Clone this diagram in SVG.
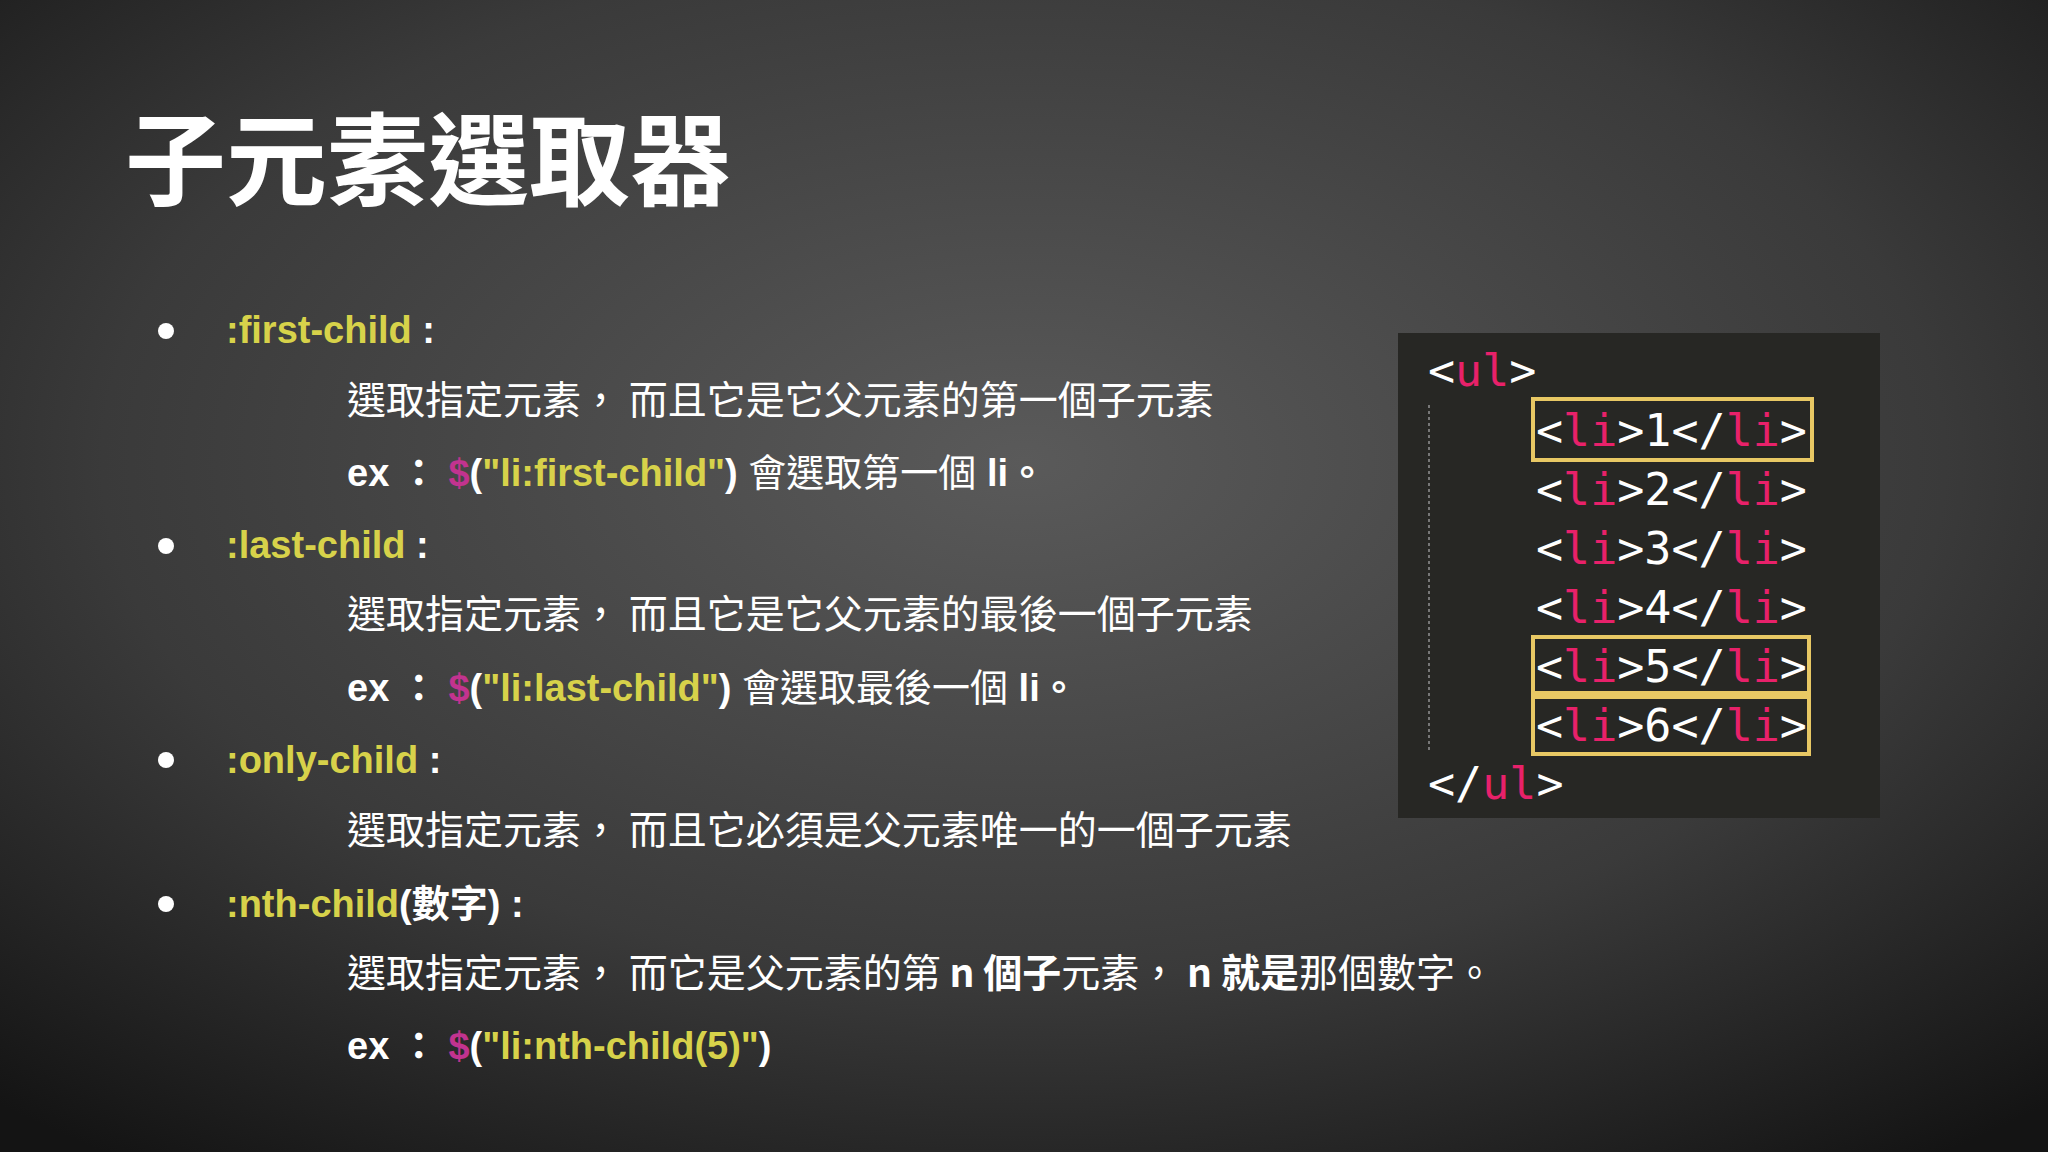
<svg xmlns="http://www.w3.org/2000/svg" width="2048" height="1152" viewBox="0 0 2048 1152">
<defs>
<radialGradient id="bg" cx="0.5" cy="0.4" r="0.75">
<stop offset="0" stop-color="#5a5a5a"/><stop offset="0.6" stop-color="#3a3a3a"/><stop offset="1" stop-color="#141414"/>
</radialGradient>
<style>
.t{font-family:"Liberation Sans","Noto Sans CJK TC",sans-serif;fill:#fff}
.z{font-family:"Noto Sans CJK TC",sans-serif;fill:#fff;font-size:39px}
.y{fill:#d7d24a}
.m{fill:#c2338f}
.b{font-weight:bold}
.code{font-family:"DejaVu Sans Mono",monospace;font-size:45px;fill:#fff}
.r{fill:#e8216a}
.hl{fill:none;stroke:#e8c864;stroke-width:4}
</style>
</defs>
<rect width="2048" height="1152" fill="url(#bg)"/>
<text x="125" y="198" font-family="Noto Sans CJK TC,sans-serif" font-weight="bold" font-size="101" fill="#fff">子元素選取器</text>
<g id="content">
<g class="t b" font-size="38">
<circle cx="166" cy="331" r="8" fill="#fff"/>
<circle cx="166" cy="546" r="8" fill="#fff"/>
<circle cx="166" cy="760" r="8" fill="#fff"/>
<circle cx="166" cy="904" r="8" fill="#fff"/>
<text x="226" y="343"><tspan class="y">:first-child</tspan> :</text>
<text x="226" y="558"><tspan class="y">:last-child</tspan> :</text>
<text x="226" y="773"><tspan class="y">:only-child</tspan> :</text>
<text x="226" y="917"><tspan class="y">:nth-child</tspan>(數字) :</text>
</g>
<text class="z" x="347" y="414">選取指定元素，  而且它是它父元素的第一個子元素</text>
<text class="z" x="347" y="628">選取指定元素，  而且它是它父元素的最後一個子元素</text>
<text class="z" x="347" y="844">選取指定元素，  而且它必須是父元素唯一的一個子元素</text>
<text class="z" x="347" y="987">選取指定元素，  而它是父元素的第 <tspan font-weight="bold">n 個子</tspan>元素，  <tspan font-weight="bold">n 就是</tspan>那個數字。</text>
<g class="t b" font-size="38">
<text x="347" y="486">ex ： <tspan class="m">$</tspan>(<tspan class="y">"li:first-child"</tspan>)  <tspan font-family="Noto Sans CJK TC" font-weight="normal">會選取第一個</tspan> li。</text>
<text x="347" y="701">ex ： <tspan class="m">$</tspan>(<tspan class="y">"li:last-child"</tspan>)    <tspan font-family="Noto Sans CJK TC" font-weight="normal">會選取最後一個</tspan> li。</text>
<text x="347" y="1059">ex ： <tspan class="m">$</tspan>(<tspan class="y">"li:nth-child(5)"</tspan>)</text>
</g>
</g>
<g id="codebox">
<rect x="1398" y="333" width="482" height="485" fill="#272724"/>
<line x1="1429" y1="405" x2="1429" y2="752" stroke="#777" stroke-width="2" stroke-dasharray="3 3"/>
<g class="code">
<text x="1428" y="386">&lt;<tspan class="r">ul</tspan>&gt;</text>
<text x="1536" y="446">&lt;<tspan class="r">li</tspan>&gt;1&lt;/<tspan class="r">li</tspan>&gt;</text>
<text x="1536" y="505">&lt;<tspan class="r">li</tspan>&gt;2&lt;/<tspan class="r">li</tspan>&gt;</text>
<text x="1536" y="564">&lt;<tspan class="r">li</tspan>&gt;3&lt;/<tspan class="r">li</tspan>&gt;</text>
<text x="1536" y="623">&lt;<tspan class="r">li</tspan>&gt;4&lt;/<tspan class="r">li</tspan>&gt;</text>
<text x="1536" y="682">&lt;<tspan class="r">li</tspan>&gt;5&lt;/<tspan class="r">li</tspan>&gt;</text>
<text x="1536" y="741">&lt;<tspan class="r">li</tspan>&gt;6&lt;/<tspan class="r">li</tspan>&gt;</text>
<text x="1428" y="799">&lt;/<tspan class="r">ul</tspan>&gt;</text>
</g>
<rect class="hl" x="1533" y="399" width="279" height="61"/>
<rect class="hl" x="1533" y="637" width="276" height="56"/>
<rect class="hl" x="1533" y="697" width="276" height="57"/>
</g>
</svg>
